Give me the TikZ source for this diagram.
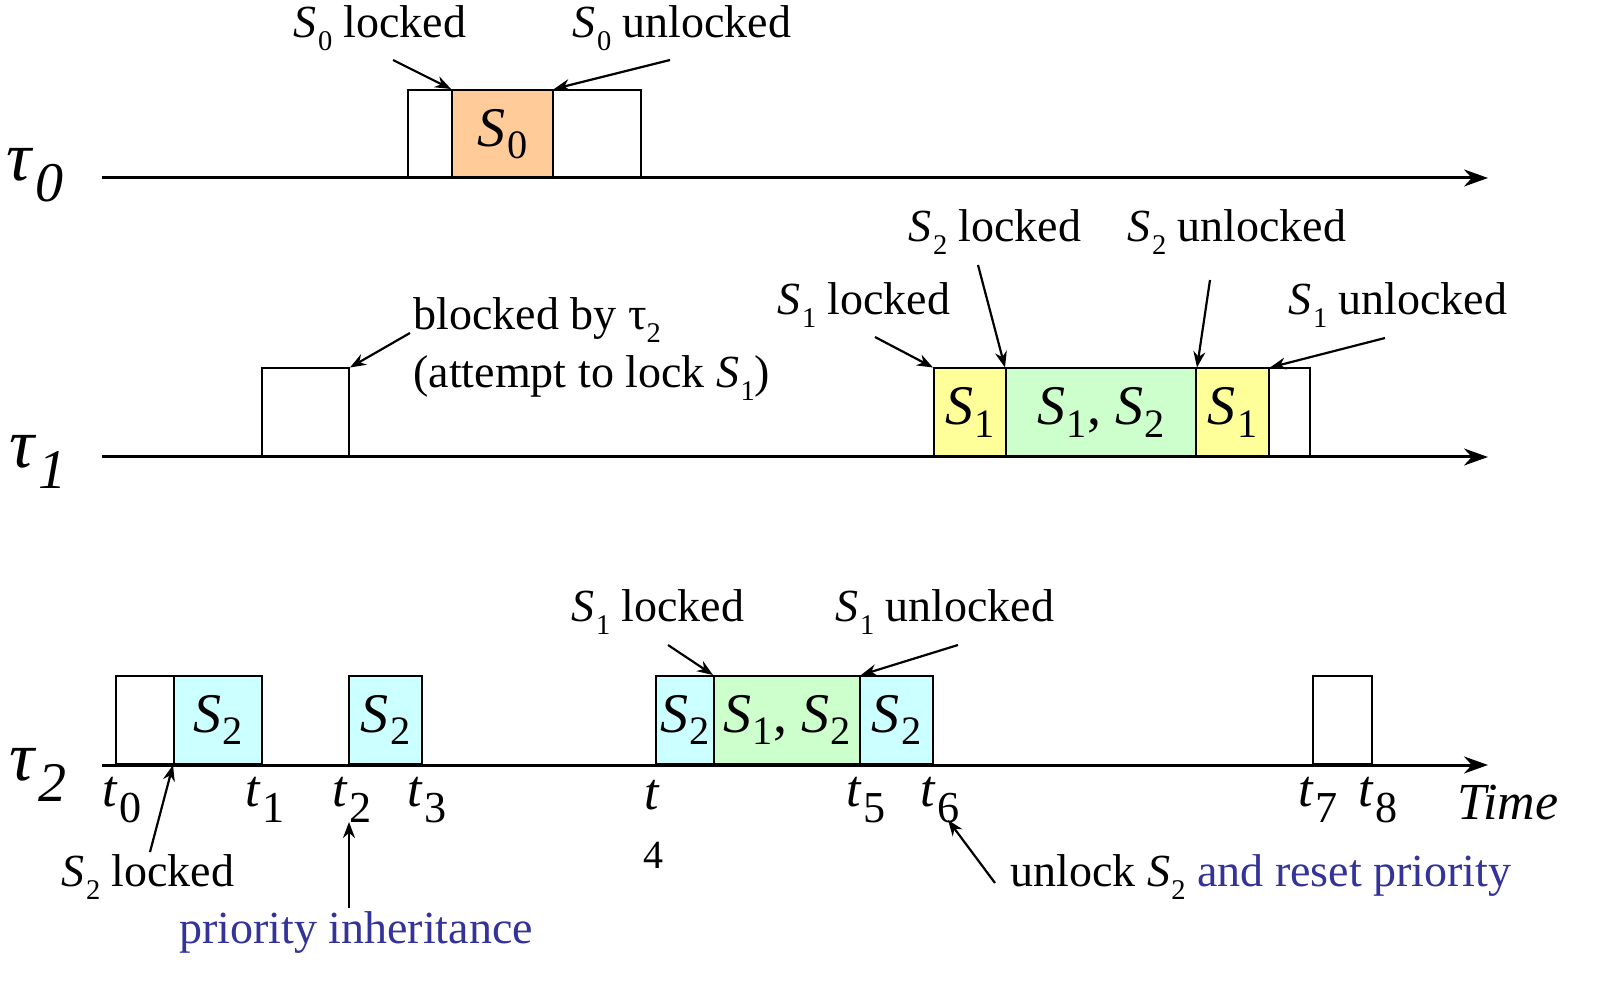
\documentclass[tikz,border=0pt]{standalone}
\usepackage{fontspec}
\setmainfont{Liberation Serif}
\usepackage{graphicx}
\usetikzlibrary{arrows, arrows.meta, positioning}

\definecolor{semorange}{HTML}{FFCC99}
\definecolor{semyellow}{HTML}{FFFF99}
\definecolor{semgreen}{HTML}{CCFFCC}
\definecolor{semcyan}{HTML}{CCFFFF}
\definecolor{noteblue}{HTML}{333399}

\newcommand{\sem}[1]{\textit{S}\kern0.03em\raisebox{-0.22em}{\scalebox{0.72}{#1}}}
\newcommand{\seml}[1]{\textit{S}\kern0.03em\raisebox{-0.28em}{\scalebox{0.62}{#1}}}
\newcommand{\tk}[1]{\textit{t}\kern0.02em\raisebox{-0.32em}{\scalebox{0.85}{#1}}}
\newcommand{\task}[1]{\textit{τ}\kern0.02em\raisebox{-0.3em}{\scalebox{0.8}{\textit{#1}}}}

\begin{document}
\begin{tikzpicture}[x=0.5pt, y=-0.5pt, >={Stealth[length=8pt, width=6pt]}]
	\tikzstyle{slot} = [draw, line width=1pt, inner sep=0pt, minimum height=44pt, font=\fontsize{28}{32}\selectfont]
	\tikzstyle{note} = [inner sep=0pt, font=\fontsize{23}{29}\selectfont]
	\tikzstyle{tick} = [inner sep=0pt, font=\fontsize{26}{30}\selectfont]
	\tikzstyle{tname} = [inner sep=0pt, font=\fontsize{35}{38}\selectfont]
	\tikzstyle{axis} = [line width=1.5pt, -{Stealth[length=12pt, width=8.5pt]}]
	\tikzstyle{ptr} = [line width=1.1pt, ->]

	\useasboundingbox (0,0) rectangle (1623,988);

	% task 0
	\node[tname] (n0) at (35,175) {\task{0}};
	\coordinate (o0) at (102,178);
	\coordinate (e0) at (1488,178);
	\node[slot, minimum width=22pt] (b0a) at (430,134) {};
	\node[slot, fill=semorange, minimum width=50.5pt] (b0s) at (502.5,134) {\sem{0}};
	\node[slot, minimum width=44pt] (b0b) at (597,134) {};
	\draw[axis] (o0) -- (e0);

	\node[note] (l01) at (380,28) {\seml{0} locked};
	\node[note] (l02) at (682,28) {\seml{0} unlocked};
	\coordinate (p01) at (393,60);
	\coordinate (p02) at (670,60);

	% task 1
	\node[tname] (n1) at (38,462) {\task{1}};
	\coordinate (o1) at (102,457);
	\coordinate (e1) at (1488,457);
	\node[slot, minimum width=43.5pt] (b1a) at (305.5,412.5) {};
	\node[slot, fill=semyellow, minimum width=36pt] (b1s) at (970,412.5) {\sem{1}};
	\node[slot, fill=semgreen, minimum width=95pt] (b1d) at (1101,412.5) {\sem{1}, \sem{2}};
	\node[slot, fill=semyellow, minimum width=36.5pt] (b1t) at (1232.5,412.5) {\sem{1}};
	\node[slot, minimum width=20.5pt] (b1b) at (1289.5,412.5) {};
	\draw[axis] (o1) -- (e1);

	\node[note, anchor=west, align=left] (l11) at (413,349) {blocked by τ\raisebox{-0.28em}{\scalebox{0.62}{2}}\\(attempt to lock \seml{1})};
	\node[note] (l12) at (864,305) {\seml{1} locked};
	\node[note] (l13) at (995,232) {\seml{2} locked};
	\node[note] (l14) at (1237,232) {\seml{2} unlocked};
	\node[note] (l15) at (1398,305) {\seml{1} unlocked};
	\coordinate (p11) at (410,333);
	\coordinate (p12) at (875,337);
	\coordinate (p13) at (978,265);
	\coordinate (p14) at (1210,280);
	\coordinate (p15) at (1385,338);

	% task 2
	\node[tname] (n2) at (38,775) {\task{2}};
	\coordinate (o2) at (102,765);
	\coordinate (e2) at (1488,765);
	\node[slot, minimum width=29pt] (b2a) at (145,720) {};
	\node[slot, fill=semcyan, minimum width=44pt] (b2s) at (218,720) {\sem{2}};
	\node[slot, fill=semcyan, minimum width=36.5pt] (b2t) at (385.5,720) {\sem{2}};
	\node[slot, fill=semcyan, minimum width=29pt] (b2u) at (685,720) {\sem{2}};
	\node[slot, fill=semgreen, minimum width=73pt] (b2d) at (787,720) {\sem{1}, \sem{2}};
	\node[slot, fill=semcyan, minimum width=36.5pt] (b2v) at (896.5,720) {\sem{2}};
	\node[slot, minimum width=29.5pt] (b2b) at (1342.5,720) {};
	\draw[axis] (o2) -- (e2);

	\node[note] (l21) at (658,612) {\seml{1} locked};
	\node[note] (l22) at (945,612) {\seml{1} unlocked};
	\node[note] (l23) at (148,877) {\seml{2} locked};
	\node[note, text=noteblue] (l24) at (356,933) {priority inheritance};
	\node[note, anchor=west] (l25) at (1010,877) {unlock \seml{2} \textcolor{noteblue}{and reset priority}};
	\coordinate (p21) at (668,645);
	\coordinate (p22) at (958,645);
	\coordinate (p23) at (150,852);
	\coordinate (p24) at (349,908);
	\coordinate (p25) at (995,883);

	% time axis
	\node[tick] (t0) at (122,800) {\tk{0}};
	\node[tick] (t1) at (265,800) {\tk{1}};
	\node[tick] (t2) at (352,800) {\tk{2}};
	\node[tick] (t3) at (427,800) {\tk{3}};
	\node[tick] (t4) at (652,795) {\textit{t}};
	\node[inner sep=0pt, font=\fontsize{20}{24}\selectfont] (t4n) at (653,855) {4};
	\node[tick] (t5) at (866,800) {\tk{5}};
	\node[tick] (t6) at (940,800) {\tk{6}};
	\node[tick] (t7) at (1318,800) {\tk{7}};
	\node[tick] (t8) at (1378,800) {\tk{8}};
	\node[tick] (tt) at (1508,803) {\textit{Time}};
	\coordinate (q2) at (349,822);
	\coordinate (q6) at (948,820);

	\path[ptr]
		(p01) edge (b0s.north west)
		(p02) edge (b0s.north east)
		(p11) edge (b1a.north east)
		(p12) edge (b1s.north west)
		(p13) edge (b1d.north west)
		(p14) edge (b1d.north east)
		(p15) edge (b1t.north east)
		(p21) edge (b2d.north west)
		(p22) edge (b2d.north east)
		(p23) edge (b2s.south west)
		(p24) edge (q2)
		(p25) edge (q6)
	;
\end{tikzpicture}
\end{document}
